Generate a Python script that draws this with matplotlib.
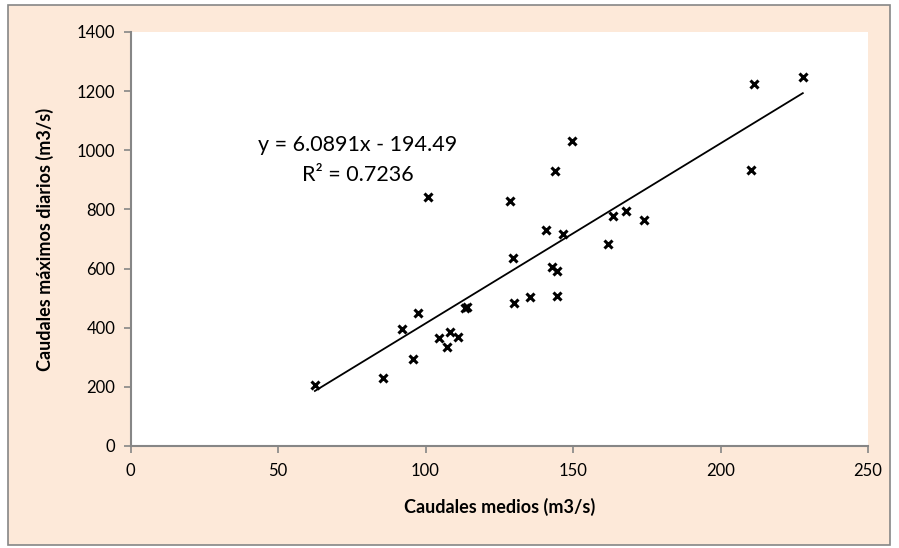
import numpy as np
import matplotlib.pyplot as plt
from matplotlib.patches import Rectangle

# caudales medios vs caudales maximos diarios (m3/s)
caudal_medio = [62.5, 85.7, 92.1, 95.7, 97.6, 104.6, 107.2, 108.4, 110.9, 113.4,
                114.2, 101.0, 128.5, 129.8, 130.0, 135.4, 140.8, 142.8, 144.7, 144.6,
                144.0, 146.5, 149.8, 161.8, 163.7, 168.1, 174.1, 211.5, 227.9, 210.3]
caudal_max = [205, 229, 395, 295, 451, 366, 336, 386, 370, 466,
              469, 841, 827, 637, 485, 504, 729, 604, 593, 508,
              930, 717, 1032, 683, 779, 796, 764, 1224, 1249, 933]

# linear trendline as printed on the chart
pendiente = 6.0891
intercepto = -194.49
r2 = 0.7236

plt.rcParams['font.family'] = ['Lato', 'DejaVu Sans']

fig = plt.figure(figsize=(8.99, 5.48), dpi=100)
fig.patch.set_facecolor('white')
fondo = Rectangle((8 / 899, 3 / 548), 882 / 899, 540 / 548,
                  transform=fig.transFigure, facecolor='#FDE9D9',
                  edgecolor='#868686', linewidth=1.2, zorder=-10)
fig.add_artist(fondo)

ax = fig.add_axes([130.5 / 899, 102 / 548, 737.5 / 899, 414 / 548])
ax.set_facecolor('white')

ax.plot(caudal_medio, caudal_max, linestyle='none', marker='x', color='black',
        markersize=5.5, markeredgewidth=2.2, zorder=3)

xs = np.array([min(caudal_medio), max(caudal_medio)])
ax.plot(xs, pendiente * xs + intercepto, color='black', linewidth=1.3, zorder=2)

ax.text(77, 1018, f'y = {pendiente}x - {abs(intercepto)}', ha='center', va='center', fontsize=15.5)
ax.text(77, 918, f'R² = {r2}', ha='center', va='center', fontsize=15.5)

ax.set_xlim(0, 250)
ax.set_ylim(0, 1400)
ax.set_xticks(range(0, 251, 50))
ax.set_yticks(range(0, 1401, 200))

for s in ['top', 'right']:
    ax.spines[s].set_visible(False)
for s in ['left', 'bottom']:
    ax.spines[s].set_color('#868686')
    ax.spines[s].set_linewidth(1.5)
ax.tick_params(colors='#868686', labelcolor='black', labelsize=12, length=5, width=1.2)
ax.tick_params(axis='x', pad=7)
ax.tick_params(axis='y', pad=6)

ax.set_xlabel('Caudales medios (m3/s)', fontsize=13, fontweight='bold', labelpad=14)
ax.set_ylabel('Caudales máximos diarios (m3/s)', fontsize=13, fontweight='bold', labelpad=16)

fig.savefig('out.png', dpi=100, facecolor=fig.get_facecolor())
